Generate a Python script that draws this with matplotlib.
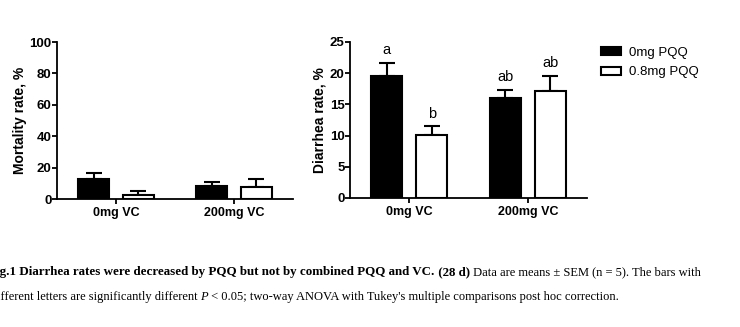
import matplotlib
matplotlib.use("Agg")
import matplotlib.pyplot as plt
from matplotlib.text import Annotation

groups = ["0mg VC", "200mg VC"]
series = ["0mg PQQ", "0.8mg PQQ"]

mortality_mean = [[12.7, 8.1], [2.8, 7.6]]
mortality_sem = [[3.9, 2.5], [2.1, 4.9]]

diarrhea_mean = [[19.5, 16.1], [10.1, 17.1]]
diarrhea_sem = [[2.2, 1.2], [1.4, 2.5]]
diarrhea_letters = [["a", "ab"], ["b", "ab"]]

W, H = 740, 327
plt.rcParams["font.family"] = ["Liberation Sans", "DejaVu Sans"]
fig = plt.figure(figsize=(W / 100, H / 100), dpi=100, facecolor="white")


def px_axes(x0, x1, ytop, ybot):
    return fig.add_axes([x0 / W, 1 - ybot / H, (x1 - x0) / W, (ybot - ytop) / H])


def bar_panel(ax, means, sems, ymax, step, ylabel, letters=None):
    width = 0.263
    offsets = [-0.19, 0.19]
    fills = ["black", "white"]
    for i in range(2):
        xs = [g + offsets[i] for g in range(len(groups))]
        ax.bar(xs, means[i], width=width, color=fills[i], edgecolor="black",
               linewidth=1.5, label=series[i], zorder=2)
        ax.errorbar(xs, means[i], yerr=[[0] * len(xs), sems[i]], fmt="none",
                    ecolor="black", elinewidth=1.5, capsize=5.8, capthick=1.5, zorder=1)
        if letters:
            for x, m, s, t in zip(xs, means[i], sems[i], letters[i]):
                ax.annotate(t, (x, m + s), xytext=(0, 4), textcoords="offset points",
                            ha="center", va="bottom", fontsize=10.5)
    ax.set_xlim(-0.5, 1.5)
    ax.set_ylim(0, ymax)
    ax.set_yticks(range(0, ymax + 1, step))
    ax.set_xticks(range(len(groups)))
    ax.set_xticklabels(groups, fontweight="bold", fontsize=9)
    for lbl in ax.get_yticklabels():
        lbl.set_fontweight("bold")
        lbl.set_fontsize(9.5)
    ax.set_ylabel(ylabel, fontweight="bold", fontsize=10, labelpad=2)
    for side in ["top", "right"]:
        ax.spines[side].set_visible(False)
    for side in ["left", "bottom"]:
        ax.spines[side].set_linewidth(1.3)
    ax.tick_params(width=1.3, length=3.5)
    ax.tick_params(axis="y", pad=0.5)
    ax.tick_params(axis="x", pad=2.5)


ax1 = px_axes(57, 293, 42, 199)
bar_panel(ax1, mortality_mean, mortality_sem, 100, 20, "Mortality rate, %")

ax2 = px_axes(350, 587, 42, 198)
bar_panel(ax2, diarrhea_mean, diarrhea_sem, 25, 5, "Diarrhea rate, %", diarrhea_letters)
ax2.legend(loc="upper left", bbox_to_anchor=(601 / W, 1 - 47 / H), bbox_transform=fig.transFigure,
           frameon=False, fontsize=9.5, borderpad=0, borderaxespad=0,
           handlelength=1.5, handleheight=0.55, handletextpad=0.6, labelspacing=0.55)

# caption below the panels, clipped at the left page edge
serif = ["Liberation Serif", "DejaVu Serif"]
size = {"bold": 9.4, "normal": 9.0}
cap1 = [("Fig.1 Diarrhea rates were decreased by PQQ but not by combined PQQ and VC.", "bold", "normal"),
        (" (28 d)", "bold", "normal"),
        (" Data are means \u00b1 SEM (n = 5). The bars with", "normal", "normal")]
cap2 = [("Different letters are significantly different ", "normal", "normal"),
        ("P", "normal", "italic"),
        (" < 0.05; two-way ANOVA with Tukey's multiple comparisons post hoc correction.", "normal", "normal")]


def caption(parts, x0, y0):
    text, weight, style = parts[0]
    prev = fig.text(x0 / W, 1 - y0 / H, text, fontsize=size[weight], family=serif,
                    fontweight=weight, fontstyle=style, va="baseline", ha="left")
    for text, weight, style in parts[1:]:
        # each piece continues where the previous one ends
        ann = Annotation(text, xy=(1, 0), xycoords=prev, va="bottom", ha="left",
                         fontsize=size[weight], family=serif, fontweight=weight,
                         fontstyle=style, annotation_clip=False)
        fig.add_artist(ann)
        prev = ann


caption(cap1, -11.5, 275)
caption(cap2, -12.5, 300)

fig.savefig("out.png", dpi=100, facecolor="white")
